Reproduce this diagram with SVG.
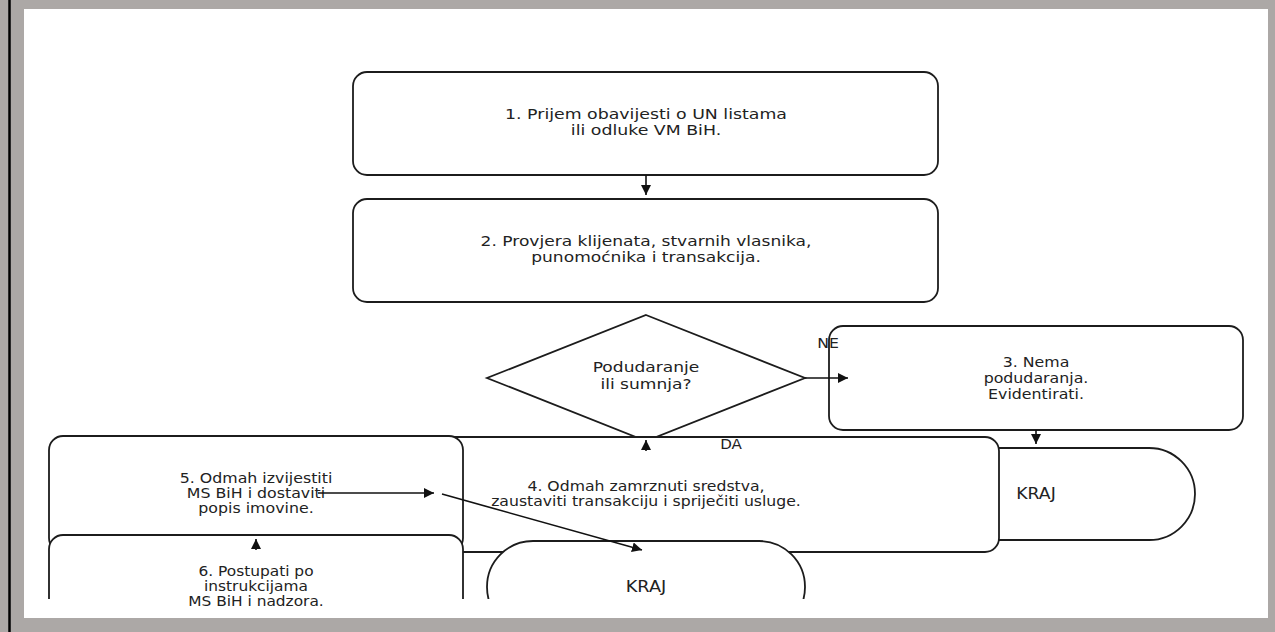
<svg xmlns="http://www.w3.org/2000/svg" width="1275" height="632" viewBox="0 0 1275 632">
<style>
.n{fill:#fff;stroke:#1c1c1c;stroke-width:1.8;clip-path:url(#cp)}
.t{font-family:"DejaVu Sans",sans-serif;font-size:14px;fill:#222;text-anchor:middle;dominant-baseline:central}
.e{fill:none;stroke:#111;stroke-width:1.6}
</style>
<defs>
<marker id="ah" viewBox="0 0 10 10" refX="10" refY="5" markerWidth="10" markerHeight="10" markerUnits="userSpaceOnUse" orient="auto">
<path d="M0,0 L10,5 L0,10 Z" fill="#111"/>
</marker>
<clipPath id="cp"><rect x="24" y="9" width="1244" height="590"/></clipPath>
</defs>
<rect x="0" y="0" width="1275" height="632" fill="#aca8a6"/>
<rect x="24" y="9" width="1244" height="609" fill="#fff"/>
<line x1="9.5" y1="0" x2="9.5" y2="632" stroke="#000" stroke-width="2.5"/>
<g id="node1"><rect class="n" x="353" y="72" width="585" height="103" rx="14"/>
<g transform="translate(646,0) scale(1.24,1)"><text class="t" x="0" y="114">1. Prijem obavijesti o UN listama</text>
<text class="t" x="0" y="130">ili odluke VM BiH.</text></g></g>
<g id="node2"><rect class="n" x="353" y="199" width="585" height="103" rx="14"/>
<g transform="translate(646,0) scale(1.22,1)"><text class="t" x="0" y="242">2. Provjera klijenata, stvarnih vlasnika,</text>
<text class="t" x="0" y="258">punomoćnika i transakcija.</text></g></g>
<g id="decision"><polygon class="n" points="646,315 805,378 646,441 487,378"/>
<g transform="translate(646,0) scale(1.22,1)"><text class="t" x="0" y="368">Podudaranje</text>
<text class="t" x="0" y="385">ili sumnja?</text></g></g>
<g id="node3"><rect class="n" x="829" y="326" width="414" height="104" rx="14"/>
<g transform="translate(1036,0) scale(1.13,1)"><text class="t" x="0" y="362">3. Nema</text>
<text class="t" x="0" y="378">podudaranja.</text>
<text class="t" x="0" y="394">Evidentirati.</text></g></g>
<g id="end1"><rect class="n" x="877" y="448" width="318" height="92" rx="46"/>
<g transform="translate(1036,0) scale(1.15,1)"><text class="t" x="0" y="494" style="font-size:15px">KRAJ</text></g></g>
<g id="node4"><rect class="n" x="293" y="437" width="706" height="115" rx="14"/>
<g transform="translate(646,0) scale(1.12,1)"><text class="t" x="0" y="486">4. Odmah zamrznuti sredstva,</text>
<text class="t" x="0" y="501">zaustaviti transakciju i spriječiti usluge.</text></g></g>
<g id="node5"><rect class="n" x="49" y="436" width="414" height="116" rx="14"/>
<g transform="translate(256,0) scale(1.13,1)"><text class="t" x="0" y="478">5. Odmah izvijestiti</text>
<text class="t" x="0" y="493">MS BiH i dostaviti</text>
<text class="t" x="0" y="508">popis imovine.</text></g></g>
<g id="node6"><rect class="n" x="49" y="535" width="414" height="103" rx="14"/>
<g transform="translate(256,0) scale(1.1,1)"><text class="t" x="0" y="571">6. Postupati po</text>
<text class="t" x="0" y="586">instrukcijama</text>
<text class="t" x="0" y="601">MS BiH i nadzora.</text></g></g>
<g id="end2"><rect class="n" x="487" y="541" width="318" height="92" rx="46"/>
<g transform="translate(646,0) scale(1.18,1)"><text class="t" x="0" y="587" style="font-size:15px">KRAJ</text></g></g>
<g id="edges">
<line class="e" x1="646" y1="175" x2="646" y2="195" marker-end="url(#ah)"/>
<line class="e" x1="805" y1="378" x2="848" y2="378" marker-end="url(#ah)"/>
<line class="e" x1="1036" y1="430" x2="1036" y2="444" marker-end="url(#ah)"/>
<line class="e" x1="646" y1="451" x2="646" y2="440" marker-end="url(#ah)"/>
<line class="e" x1="256" y1="550" x2="256" y2="539" marker-end="url(#ah)"/>
<line class="e" x1="318" y1="493" x2="434" y2="493" marker-end="url(#ah)"/>
<line class="e" x1="442" y1="494" x2="642" y2="550" marker-end="url(#ah)"/>
<g transform="translate(828,0) scale(1.12,1)"><text class="t" x="0" y="343">NE</text></g>
<g transform="translate(731,0) scale(1.08,1)"><text class="t" x="0" y="444">DA</text></g>
</g>
</svg>
